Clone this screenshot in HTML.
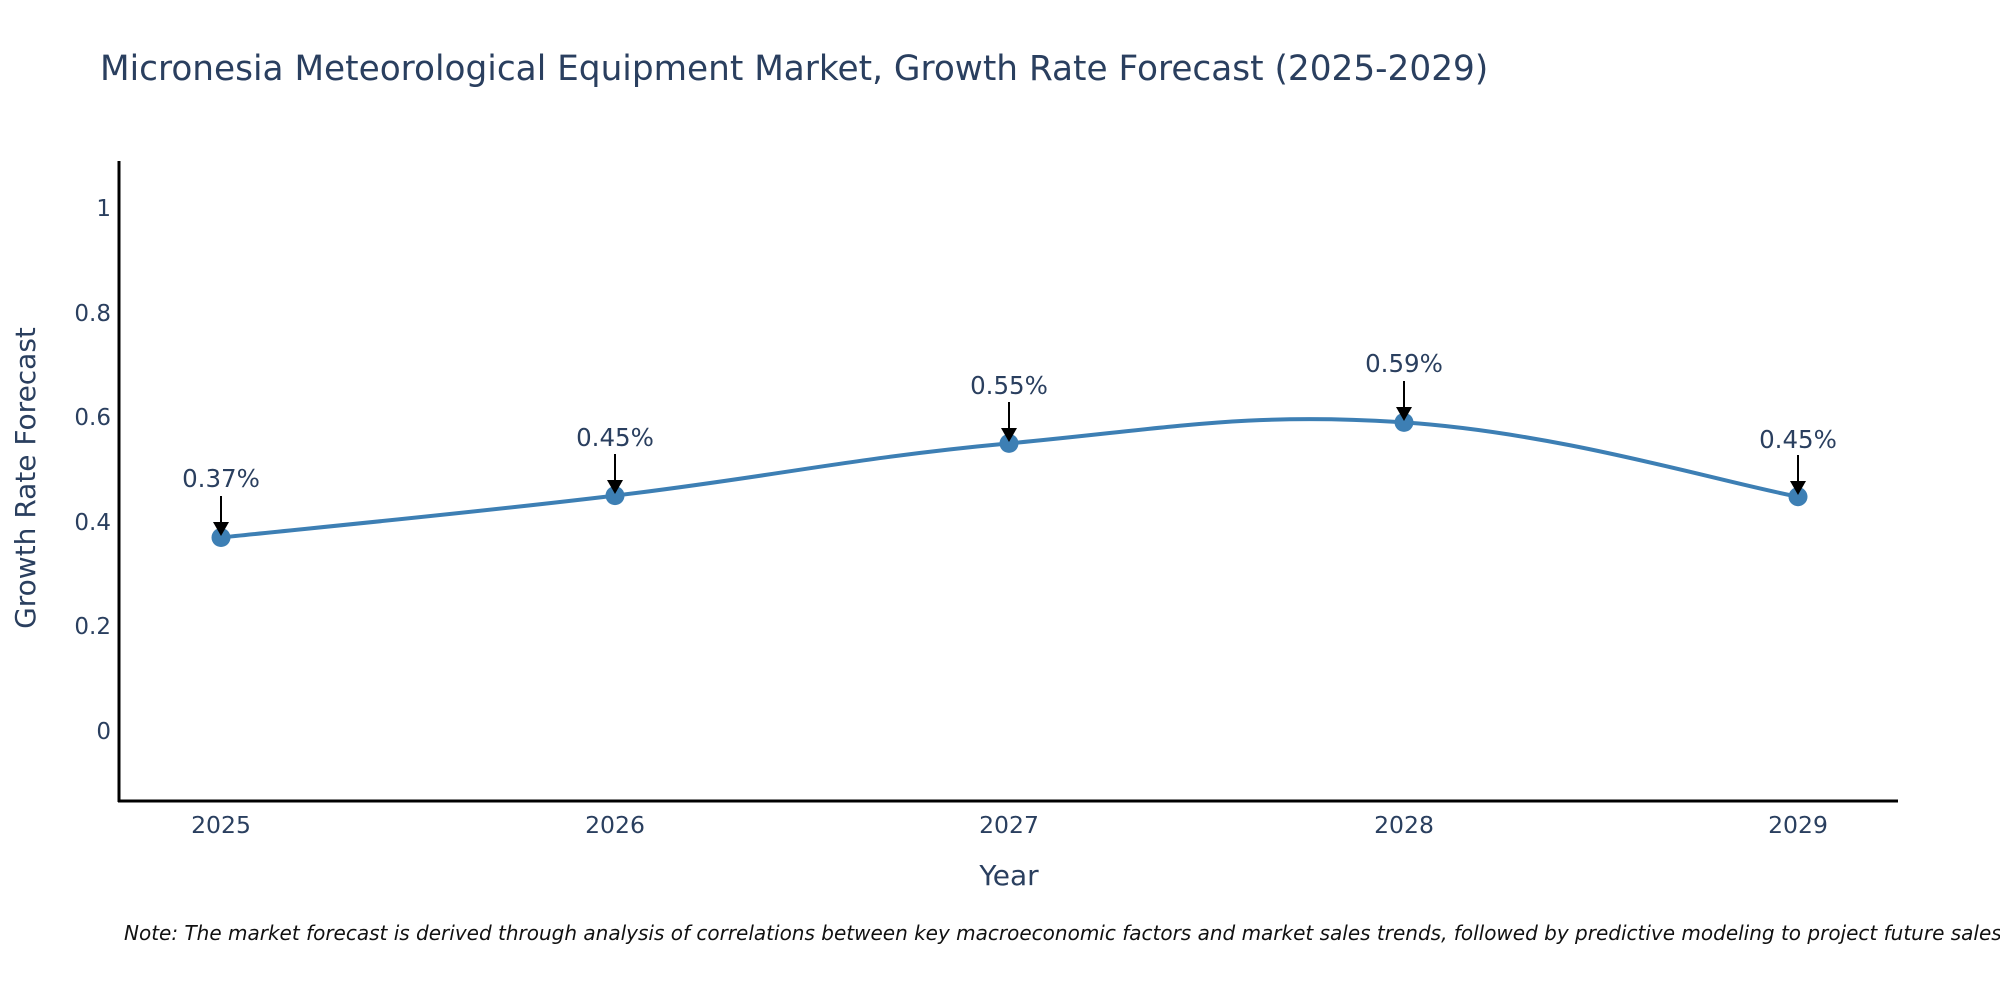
<!DOCTYPE html>
<html><head><meta charset="utf-8"><style>body{margin:0;background:#fff}svg{display:block}</style></head>
<body>
<svg width="2000" height="1000" xmlns="http://www.w3.org/2000/svg" font-family="DejaVu Sans, Liberation Sans, sans-serif">
<text x="100" y="80" font-size="34.3" fill="#2a3f5f">Micronesia Meteorological Equipment Market, Growth Rate Forecast (2025-2029)</text>
<g font-size="23" fill="#2a3f5f" text-anchor="end">
<text x="111" y="216">1</text>
<text x="111" y="321">0.8</text>
<text x="111" y="425">0.6</text>
<text x="111" y="530">0.4</text>
<text x="111" y="634">0.2</text>
<text x="111" y="739">0</text>
</g>
<g font-size="23.5" fill="#2a3f5f" text-anchor="middle">
<text x="221" y="833">2025</text>
<text x="615" y="833">2026</text>
<text x="1009" y="833">2027</text>
<text x="1404" y="833">2028</text>
<text x="1798" y="833">2029</text>
</g>
<text x="1009" y="885" font-size="28" fill="#2a3f5f" text-anchor="middle">Year</text>
<text transform="translate(35,478) rotate(-90)" font-size="28" fill="#2a3f5f" text-anchor="middle">Growth Rate Forecast</text>
<line x1="119" y1="161" x2="119" y2="802" stroke="#000" stroke-width="3"/>
<line x1="118" y1="801" x2="1898" y2="801" stroke="#000" stroke-width="3"/>
<path d="M221,537.5 C299.8,529.1 457.4,514.4 615,495.6 C772.6,476.8 851.2,458 1009,443.4 C1166.8,428.8 1246.2,411.7 1404,422.4 C1561.8,433.1 1719.2,481.8 1798,496.7" fill="none" stroke="#3d7fb4" stroke-width="4"/>
<g fill="#3d7fb4">
<circle cx="221" cy="537.5" r="9.5"/><circle cx="615" cy="495.6" r="9.5"/><circle cx="1009" cy="443.4" r="9.5"/><circle cx="1404" cy="422.4" r="9.5"/><circle cx="1798" cy="496.7" r="9.5"/>
</g>
<g stroke="#000" stroke-width="2">
<line x1="221" y1="496" x2="221" y2="522"/><line x1="615" y1="454" x2="615" y2="480"/><line x1="1009" y1="402" x2="1009" y2="428"/><line x1="1404" y1="381" x2="1404" y2="407"/><line x1="1798" y1="455" x2="1798" y2="481"/>
</g>
<g fill="#000">
<polygon points="213,522 229,522 221,536"/><polygon points="607,480 623,480 615,494"/><polygon points="1001,428 1017,428 1009,442"/><polygon points="1396,407 1412,407 1404,421"/><polygon points="1790,481 1806,481 1798,495"/>
</g>
<g font-size="24.5" fill="#2a3f5f" text-anchor="middle">
<text x="221" y="487">0.37%</text>
<text x="615" y="446">0.45%</text>
<text x="1009" y="394">0.55%</text>
<text x="1404" y="372">0.59%</text>
<text x="1798" y="448">0.45%</text>
</g>
<text x="124" y="940" font-size="20" font-style="italic" fill="#111">Note: The market forecast is derived through analysis of correlations between key macroeconomic factors and market sales trends, followed by predictive modeling to project future sales.</text>
</svg>
</body></html>
